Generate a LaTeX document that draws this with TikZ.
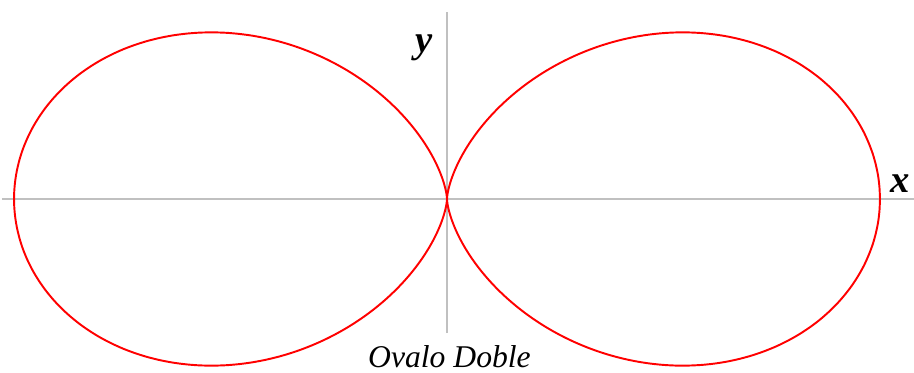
\documentclass[tikz,border=0pt]{standalone}
\usepackage{fontspec}
\setmainfont{Liberation Serif}
\usepackage{tikz}
\usetikzlibrary{positioning}
\definecolor{axisgray}{RGB}{192, 192, 192}
\newcommand{\ovalA}{8.66}

\begin{document}
\begin{tikzpicture}[
  axis/.style={color=axisgray, line width=0.9pt},
  curve/.style={color=red, line width=1.1pt},
  axlabel/.style={font=\fontsize{22}{24}\selectfont\bfseries\itshape, anchor=base, inner sep=0pt}]
  \useasboundingbox (-8.94,-3.46) rectangle (9.34,3.98);
  % axes
  \coordinate (xl) at (-8.90,0);
  \coordinate (xr) at (9.34,0);
  \coordinate (yb) at (0,-2.68);
  \coordinate (yt) at (0,3.74);
  \draw[axis] (xl) -- (xr);
  \draw[axis] (yb) -- (yt);
  % curve r = a cos^2 t
  \draw[curve, domain=0:360, samples=240, smooth, variable=\t]
    plot ({\ovalA*cos(\t)^3}, {\ovalA*cos(\t)^2*sin(\t)});
  \node[axlabel] (ylab) at (-0.46,2.94) {y};
  \node[axlabel] (xlab) at (9.07,0.13) {x};
  \node[anchor=base, inner sep=0pt, font=\fontsize{18}{20}\selectfont\itshape] (title) at (0.05,-3.36) {Ovalo Doble};
\end{tikzpicture}
\end{document}
